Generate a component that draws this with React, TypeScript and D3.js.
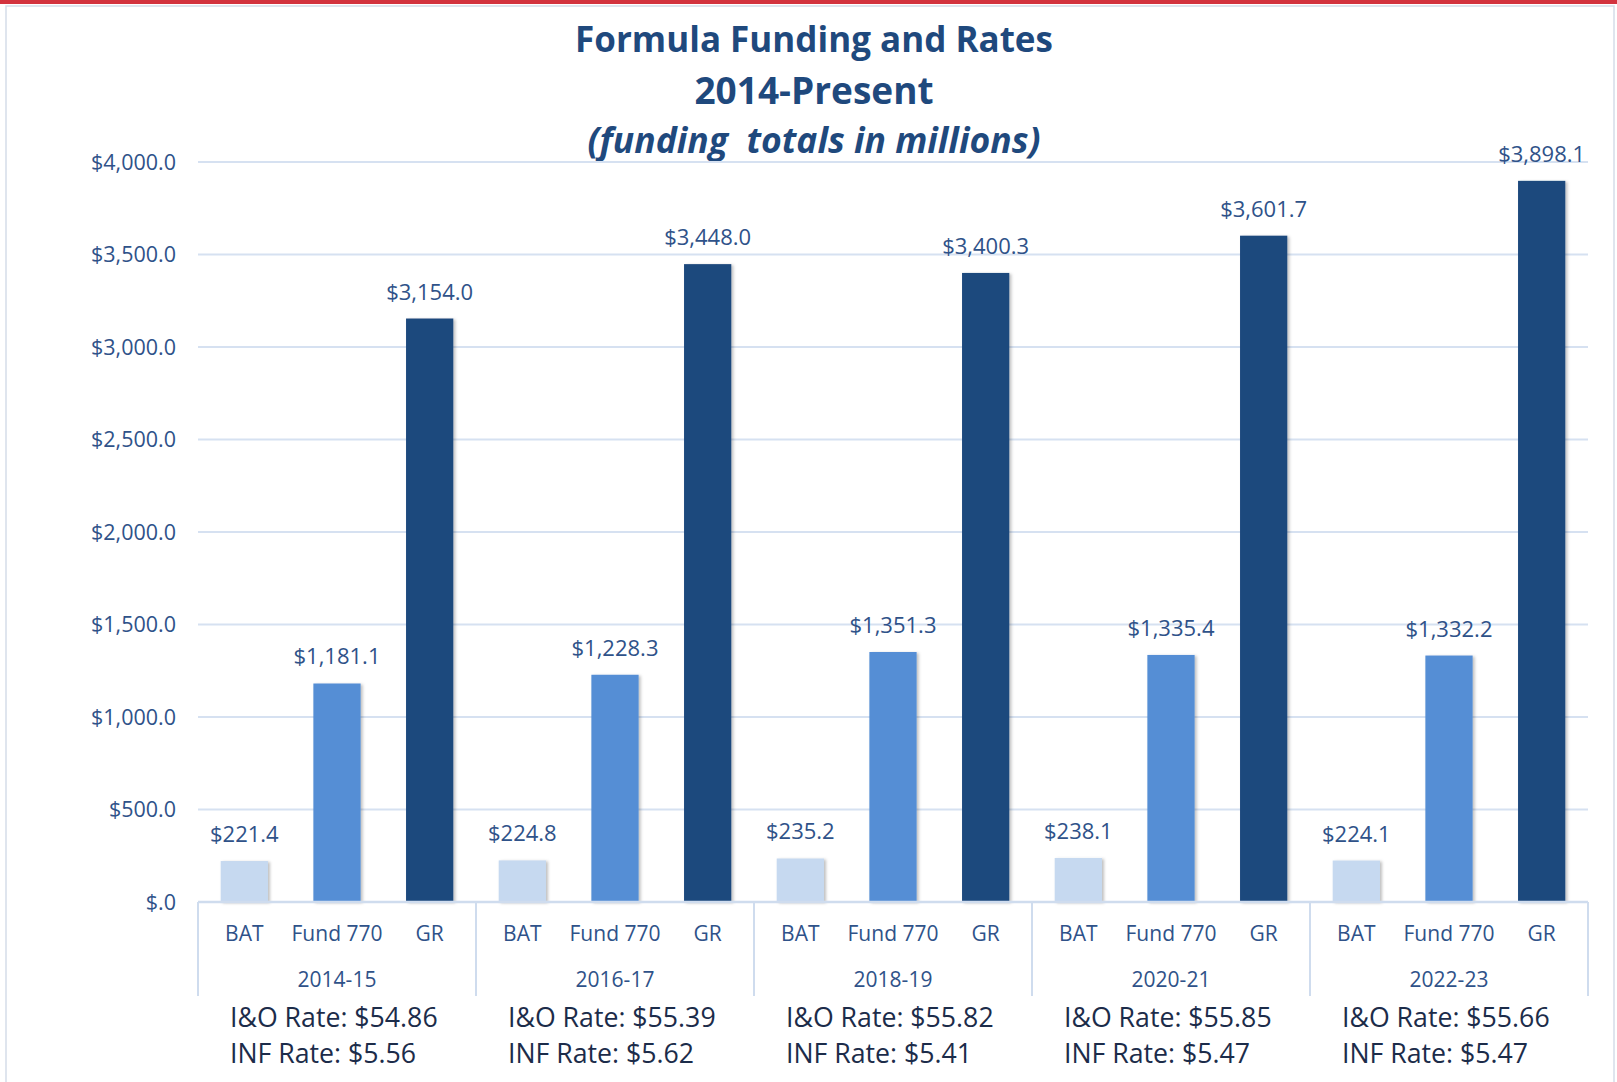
import React from "react";
import * as d3 from "d3";

const years = ["2014-15", "2016-17", "2018-19", "2020-21", "2022-23"];
const funds = ["BAT", "Fund 770", "GR"];
const batValues = [221.4, 224.8, 235.2, 238.1, 224.1];
const fund770Values = [1181.1, 1228.3, 1351.3, 1335.4, 1332.2];
const grValues = [3154.0, 3448.0, 3400.3, 3601.7, 3898.1];
const ioRates = ["$54.86", "$55.39", "$55.82", "$55.85", "$55.66"];
const infRates = ["$5.56", "$5.62", "$5.41", "$5.47", "$5.47"];
const yTicks = [0, 500, 1000, 1500, 2000, 2500, 3000, 3500, 4000];

const colors: Record<string, string> = {
  BAT: "#c6d9f0",
  "Fund 770": "#558ed5",
  GR: "#1f497d",
};

const W = 1617;
const H = 1082;
const left = 198;
const right = 1588;
const top = 162;
const bottom = 902;

const font = "'Open Sans', 'Noto Sans', sans-serif";
const labelColor = "#2f5289";

const fmt = (v: number) => "$" + d3.format(",.1f")(v);

export default function App() {
  const x0 = d3.scaleBand<string>().domain(years).range([left, right]);
  const x1 = d3
    .scaleBand<string>()
    .domain(funds)
    .range([0, x0.bandwidth()])
    .paddingInner(0.49)
    .paddingOuter(0.245);
  const y = d3.scaleLinear().domain([0, 4000]).range([bottom, top]);

  const rows = years.map((yr, i) => ({
    year: yr,
    vals: [
      { k: "BAT", v: batValues[i] },
      { k: "Fund 770", v: fund770Values[i] },
      { k: "GR", v: grValues[i] },
    ],
    io: ioRates[i],
    inf: infRates[i],
  }));

  const sepBottom = 996;

  return (
    <svg
      width={W}
      height={H}
      style={{ position: "absolute", left: 0, top: 0, background: "#fff" }}
      fontFamily={font}
    >
      <defs>
        <filter id="sh" x="-20%" y="-5%" width="150%" height="115%">
          <feDropShadow dx="2" dy="1" stdDeviation="1.5" floodColor="#000" floodOpacity="0.25" />
        </filter>
      </defs>

      {/* frame */}
      <rect x={0} y={0} width={W} height={4} fill="#d3333e" />
      <rect x={6} y={6} width={W - 9} height={H + 10} fill="none" stroke="#d5dde9" strokeWidth={1.5} />

      {/* title */}
      <g fill="#1f497d" textAnchor="middle" fontWeight="bold">
        <text x={814} y={52} fontSize={35}>Formula Funding and Rates</text>
        <text x={814} y={104} fontSize={37}>2014-Present</text>
        <text x={814} y={153} fontSize={35.5} fontStyle="italic" style={{ whiteSpace: "pre" }}>
          {"(funding  totals in millions)"}
        </text>
      </g>

      {/* gridlines + y labels */}
      {yTicks.map((t) => (
        <g key={t}>
          {t > 0 && (
            <line x1={left} x2={right} y1={y(t)} y2={y(t)} stroke="#d6e1f1" strokeWidth={2} />
          )}
          <text
            x={176}
            y={y(t)}
            dy="0.35em"
            textAnchor="end"
            fontSize={21.5}
            fill={labelColor}
          >
            {t === 0 ? "$.0" : fmt(t)}
          </text>
        </g>
      ))}

      {/* bars */}
      {rows.map((r) => (
        <g key={r.year} transform={`translate(${x0(r.year)},0)`}>
          {r.vals.map((d) => (
            <g key={d.k}>
              <rect
                x={x1(d.k)}
                y={y(d.v)}
                width={x1.bandwidth()}
                height={y(0) - y(d.v)}
                fill={colors[d.k]}
                filter="url(#sh)"
              />
              <text
                x={(x1(d.k) as number) + x1.bandwidth() / 2}
                y={y(d.v) - 19}
                textAnchor="middle"
                fontSize={22}
                fill={labelColor}
              >
                {fmt(d.v)}
              </text>
              <text
                x={(x1(d.k) as number) + x1.bandwidth() / 2}
                y={941}
                textAnchor="middle"
                fontSize={21}
                fill={labelColor}
              >
                {d.k}
              </text>
            </g>
          ))}
          <text x={x0.bandwidth() / 2} y={987} textAnchor="middle" fontSize={21} fill={labelColor}>
            {r.year}
          </text>
          <g fontSize={26.7} fill="#1c2c4a">
            <text x={x0.bandwidth() / 2 - 107} y={1027}>{`I&O Rate: ${r.io}`}</text>
            <text x={x0.bandwidth() / 2 - 107} y={1063}>{`INF Rate: ${r.inf}`}</text>
          </g>
        </g>
      ))}

      {/* category axis */}
      <line x1={left} x2={right} y1={bottom} y2={bottom} stroke="#cfdcee" strokeWidth={2.5} />
      {[...years.map((yr) => x0(yr) as number), right].map((xv, i) => (
        <line key={i} x1={xv} x2={xv} y1={bottom} y2={sepBottom} stroke="#cfdcee" strokeWidth={2} />
      ))}
    </svg>
  );
}
